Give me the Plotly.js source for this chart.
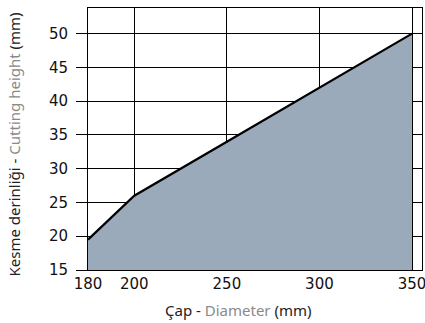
<!DOCTYPE html>
<html>
<head>
<meta charset="utf-8">
<script src="https://cdn.plot.ly/plotly-3.0.1.min.js"></script>
<style>html,body{margin:0;padding:0;background:#fff;}#chart{width:425px;height:323px;}</style>
</head>
<body>
<div id="chart"></div>
<script>
const diameters = [180, 200, 250, 300, 350];
const heights = [19.5, 26, 34, 42, 50];
const tickLabels = ['180', '200', '250', '300', '350'];
const yTicks = [15, 20, 25, 30, 35, 40, 45, 50];
const xTitle = 'Çap - <span style="fill:#8a8a8a">Diameter</span> (mm)';
const yTitle = 'Kesme derinliği - <span style="fill:#8a8a8a">Cutting height</span> (mm)';

// The reference draws the 180–200 interval at half the width of the 50 mm steps.
function axisPos(d) { return d >= 200 ? d : 200 - (200 - d) * 1.25; }
const xs = diameters.map(axisPos);

const tickFont = {family: '"DejaVu Sans", Verdana, sans-serif', size: 15, color: '#111'};
const titleFont = {family: '"Noto Sans", sans-serif', size: 15, color: '#222'};

const trace = {
  x: xs, y: heights, type: 'scatter', mode: 'lines',
  fill: 'tozeroy', fillcolor: 'rgb(154,170,186)',
  line: {color: '#000', width: 2.2}, hoverinfo: 'none'
};
const W = 425, H = 323;
const layout = {
  width: W, height: H,
  margin: {l: 88, r: 3, t: 8, b: 53},
  paper_bgcolor: '#fff', plot_bgcolor: '#fff',
  showlegend: false,
  font: tickFont,
  xaxis: {
    type: 'linear', range: [175, 355.4],
    tickvals: xs, ticktext: tickLabels,
    showgrid: true, gridcolor: '#000', gridwidth: 1,
    showline: true, linecolor: '#000', linewidth: 1, mirror: true,
    zeroline: false, ticks: '', ticklen: 0,
    ticklabeloverflow: 'allow',
    tickfont: tickFont
  },
  yaxis: {
    type: 'linear', range: [15, 53.8],
    tickvals: yTicks,
    showgrid: true, gridcolor: '#000', gridwidth: 1,
    showline: true, linecolor: '#000', linewidth: 1, mirror: true,
    zeroline: false, ticks: 'outside', ticklen: 11, tickcolor: '#000', tickwidth: 1,
    ticklabelstandoff: 5,
    tickfont: tickFont
  },
  annotations: [
    {text: xTitle, xref: 'paper', yref: 'paper', showarrow: false,
     x: (238.5 - 88) / (422 - 88), y: -(310 - 270) / 262,
     xanchor: 'center', yanchor: 'middle', font: titleFont},
    {text: yTitle, xref: 'paper', yref: 'paper', showarrow: false, textangle: -90,
     x: -(88 - 13.5) / 334, y: (270 - 145) / 262,
     xanchor: 'center', yanchor: 'middle', font: titleFont}
  ]
};
Plotly.newPlot('chart', [trace], layout, {staticPlot: true, displayModeBar: false});
</script>
</body>
</html>
